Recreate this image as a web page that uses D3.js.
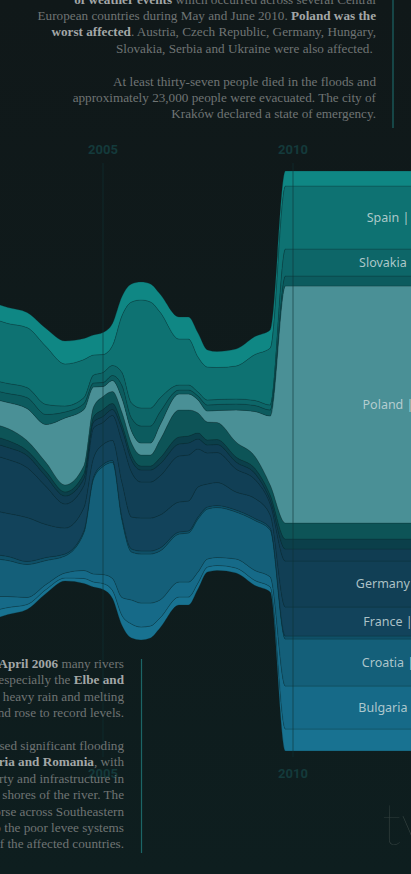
<!DOCTYPE html>
<html><head><meta charset="utf-8">
<script src="https://cdn.jsdelivr.net/npm/d3@7"></script>
<style>
html,body{margin:0;padding:0;background:#0f1a1b;overflow:hidden}
svg{display:block}
text{white-space:pre}
</style></head><body>
<svg id="chart" width="411" height="874"></svg>
<script>
// ---- data (people affected, relative units) ----
const years = [2001.5, 2002, 2002.5, 2003, 2003.5, 2004, 2004.5, 2004.75, 2005, 2005.25, 2005.5, 2005.75, 2006, 2006.25, 2006.5, 2007, 2007.25, 2007.5, 2007.75, 2008, 2008.5, 2009, 2009.4, 2009.8, 2011, 2012, 2013.5];

const austria  = [16,16,16,15,18,23,21,20,22,22,19,18,18,18,18,22,22,24,17,16,17,18,18,15,15,15,15];
const spain    = [63,62,60,60,58,42,38,20,18,20,57,101,108,106,86,46,46,35,33,32,33,46,57,63,63,63,63];
const slovakia = [10,10,10,10,10,6,6,8,10,10,13,15,18,18,14,5,5,4,5,5,5,5,5,27,27,27,27];
const hungary  = [9,9,9,11,10,6,6,4,4,5,13,13,17,17,13,4,4,4,6,6,6,6,6,10,10,10,10];
const poland   = [25,25,26,32,38,67,56,20,10,11,14,12,12,12,15,16,16,13,11,12,32,45,69,237,237,237,237];
const czech    = [12,12,12,10,9,7,8,10,13,12,12,12,11,11,18,27,26,20,18,17,15,12,10,16,16,16,16];
const serbia   = [7,7,7,5,5,4,5,5,7,6,5,5,4,4,6,7,7,6,5,5,5,5,5,10,10,10,10];
const ukraine  = [12,12,12,12,10,8,7,6,6,6,12,12,12,12,12,12,12,10,8,8,7,6,4,12,12,12,12];
const germany  = [58,56,54,50,38,24,22,30,22,25,41,45,36,36,39,46,46,38,31,30,23,19,11,46,46,46,46];
const france   = [45,44,43,44,33,26,23,19,20,20,35,32,33,33,33,30,30,30,23,23,18,20,13,29,29,29,29];
const portugal = [4,4,4,3,3,2,2,2,2,2,3,3,3,3,3,2,2,2,2,2,2,2,2,3,3,3,3];
const croatia  = [39,38,36,33,24,17,38,95,108,116,77,48,49,49,49,48,49,53,50,50,47,50,47,47,47,47,47];
const bulgaria = [16,15,11,7,5,5,8,8,9,12,18,24,24,23,18,15,15,11,8,8,9,10,10,43,43,43,43];
const romania  = [9,9,7,5,4,3,5,5,6,8,10,14,13,12,10,8,8,6,5,5,5,5,5,22,22,22,22];

// top-to-bottom order of the streams
const countries = ["Austria","Spain","Slovakia","Hungary","Poland","Czech Republic","Serbia","Ukraine","Germany","France","Portugal","Croatia","Bulgaria","Romania"];
const seriesValues = [austria, spain, slovakia, hungary, poland, czech, serbia, ukraine, germany, france, portugal, croatia, bulgaria, romania];
const countryColors = ["#0f8784","#0e7272","#0d6668","#0c5b5e","#4a9096","#0d5457","#0b3f4a","#103d52","#113f55","#12435b","#0f5068","#145f79","#166a88","#187291"];
const labeledCountries = ["Spain","Slovakia","Poland","Germany","France","Croatia","Bulgaria"];
const tickYears = [2005, 2010];

const topNote = [
  [["of weather events", true], [" which occurred across several Central", false]],
  [["European countries during May and June 2010. ", false], ["Poland was the", true]],
  [["worst affected", true], [". Austria, Czech Republic, Germany, Hungary,", false]],
  [["Slovakia, Serbia and Ukraine were also affected. ", false]],
  [],
  [["At least thirty-seven people died in the floods and", false]],
  [["approximately 23,000 people were evacuated. The city of", false]],
  [["Kraków declared a state of emergency.", false]]
];
const bottomNote = [
  [["In late March and early ", false], ["April 2006", true], [" many rivers", false]],
  [["in Central Europe, especially the ", false], ["Elbe and", true]],
  [["Danube", true], [", swelled due to heavy rain and melting", false]],
  [["snow and rose to record levels.", false]],
  [],
  [["The Danube caused significant flooding", false]],
  [["in ", false], ["Serbia, Bulgaria and Romania", true], [", with", false]],
  [["damage to property and infrastructure in", false]],
  [["villages along the shores of the river. The", false]],
  [["floods were worse across Southeastern", false]],
  [["Europe, due to the poor levee systems", false]],
  [["in many of the affected countries.", false]]
];

// ---- build ----
const W = 411, H = 874;
const svg = d3.select("#chart");

const defs = svg.append("defs");
const g = defs.append("linearGradient").attr("id","bg").attr("x1",0).attr("y1",0).attr("x2",0).attr("y2",1);
g.append("stop").attr("offset","0%").attr("stop-color","#101819");
g.append("stop").attr("offset","100%").attr("stop-color","#0e1e1f");
svg.append("rect").attr("width",W).attr("height",H).attr("fill","url(#bg)");

const table = years.map((yr, i) => {
  const row = {year: yr};
  countries.forEach((c, j) => row[c] = seriesValues[j][i]);
  return row;
});

const x = d3.scaleLinear().domain([2005, 2010]).range([103, 293]);
const y = d3.scaleLinear().domain([-290, 290]).range([751, 171]);

const stack = d3.stack()
  .keys(countries.slice().reverse())
  .order(d3.stackOrderNone)
  .offset(d3.stackOffsetSilhouette);
const series = stack(table);

const area = d3.area()
  .x(d => x(d.data.year))
  .y0(d => y(d[0]))
  .y1(d => y(d[1]))
  .curve(d3.curveMonotoneX);

// axis tick labels (top and bottom)
const axisG = svg.append("g");
[154, 778].forEach(ty => {
  axisG.selectAll(null).data(tickYears).enter().append("text")
    .attr("x", d => x(d)).attr("y", ty)
    .attr("text-anchor","middle")
    .attr("font-family","Roboto, 'DejaVu Sans', sans-serif")
    .attr("font-weight","700").attr("font-size",13)
    .attr("fill","#143a3b")
    .text(d => d);
});

const streams = svg.append("g");
streams.selectAll("path").data(series).enter().append("path")
  .attr("d", area)
  .attr("fill", d => countryColors[countries.indexOf(d.key)])
  .attr("stroke", "#08292c").attr("stroke-opacity", 0.35).attr("stroke-width", 0.7);

// gridlines
svg.append("g").selectAll("line").data(tickYears).enter().append("line")
  .attr("x1", d => x(d)).attr("x2", d => x(d))
  .attr("y1", 163).attr("y2", 757)
  .attr("stroke", "#0f3437").attr("stroke-opacity", 0.6).attr("stroke-width", 1);

// labels on the 2010 block
const lastIdx = years.length - 1;
svg.append("g").selectAll("text")
  .data(series.filter(s => labeledCountries.includes(s.key)))
  .enter().append("text")
  .attr("x", x(2012.5))
  .attr("y", s => y((s[lastIdx][0] + s[lastIdx][1]) / 2))
  .attr("dy", "0.35em")
  .attr("text-anchor","middle")
  .attr("font-family","'Noto Sans', sans-serif")
  .attr("font-size", 12.5)
  .attr("fill","#c9dadb").attr("fill-opacity",0.85)
  .text(s => s.key + " |");

// annotation blocks
function block(lines, xRight, y0, lh) {
  const gg = svg.append("g");
  lines.forEach((segs, i) => {
    if (!segs.length) return;
    const t = gg.append("text")
      .attr("x", xRight).attr("y", y0 + i * lh)
      .attr("text-anchor","end")
      .attr("font-family","'Liberation Serif', 'DejaVu Serif', serif")
      .attr("font-size", 13.2);
    segs.forEach(([txt, bold]) => {
      t.append("tspan").text(txt)
        .attr("font-weight", bold ? 700 : 400)
        .attr("fill", bold ? "#a3a7a7" : "#6f7474");
    });
  });
  return gg;
}
block(topNote, 376, 3.5, 16.4);
svg.append("line").attr("x1",393).attr("x2",393).attr("y1",0).attr("y2",128)
  .attr("stroke","#1c6566").attr("stroke-width",1.2);
block(bottomNote, 124, 668, 16.4);
svg.append("line").attr("x1",141.5).attr("x2",141.5).attr("y1",659).attr("y2",853)
  .attr("stroke","#1c6566").attr("stroke-width",1.2);

// logo
svg.append("text").attr("x",382).attr("y",845)
  .attr("font-family","Lato, 'Noto Sans', sans-serif").attr("font-weight",100)
  .attr("font-size",58).attr("fill","#33403f").text("tv");
</script>
</body></html>
